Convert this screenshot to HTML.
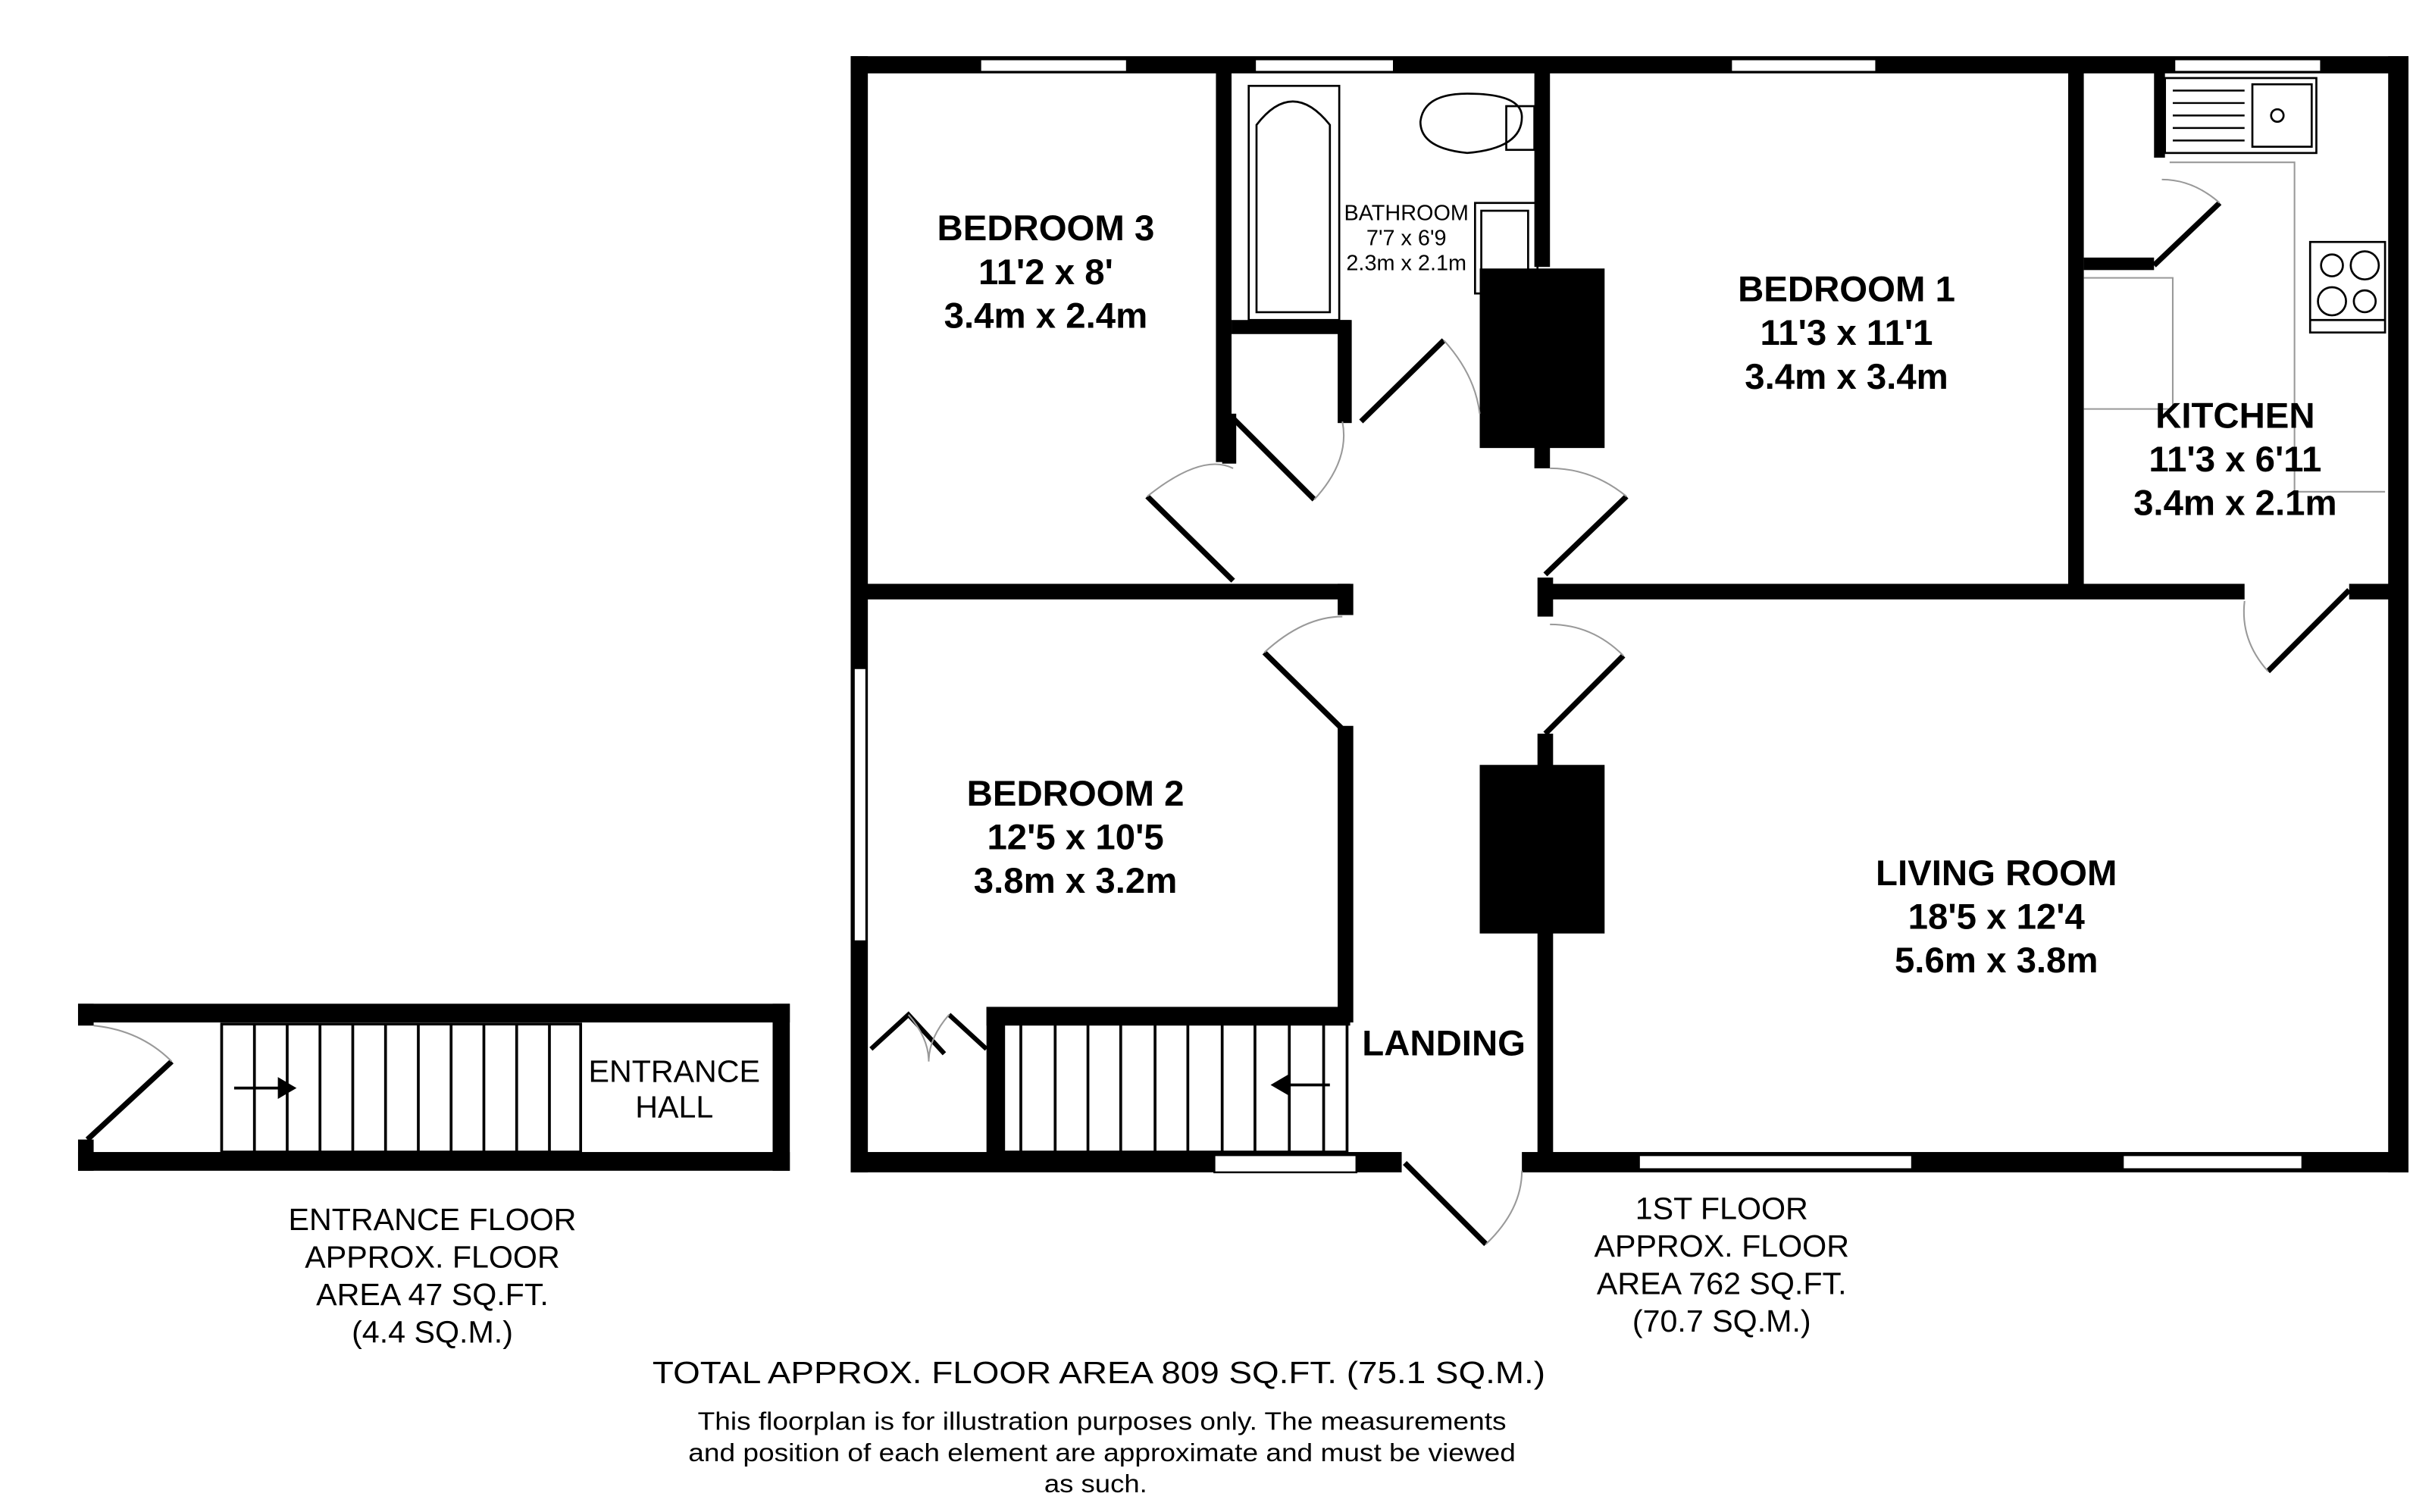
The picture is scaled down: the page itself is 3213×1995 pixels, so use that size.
<!DOCTYPE html>
<html><head><meta charset="utf-8"><style>
html,body{margin:0;padding:0;background:#fff;width:3213px;height:1995px;overflow:hidden}
svg{display:block}
text{font-family:"Liberation Sans Narrow","Liberation Sans",sans-serif;fill:#000}
.b{font-weight:bold;font-size:23px}
.n{font-size:20px}
</style></head><body>
<svg width="3213" height="1995" viewBox="0 0 1560 968.6" preserveAspectRatio="none" xmlns="http://www.w3.org/2000/svg">
<g fill="#000">
<rect x="545" y="36" width="998" height="11"/>
<rect x="545" y="36" width="11" height="715"/>
<rect x="1530" y="36" width="13" height="715"/>
<rect x="545" y="738" width="353" height="13"/>
<rect x="975" y="738" width="568" height="13"/>
<rect x="779" y="46" width="10" height="250"/>
<rect x="789" y="205" width="76" height="9"/>
<rect x="857" y="205" width="9" height="66"/>
<rect x="783" y="265" width="9" height="32"/>
<rect x="983" y="46" width="10" height="125"/>
<rect x="948" y="172" width="80" height="115"/>
<rect x="983" y="280" width="10" height="20"/>
<rect x="555" y="374" width="310" height="10"/>
<rect x="857" y="374" width="10" height="20"/>
<rect x="857" y="465" width="10" height="190"/>
<rect x="985" y="370" width="10" height="25"/>
<rect x="985" y="470" width="10" height="280"/>
<rect x="948" y="490" width="80" height="108"/>
<rect x="990" y="374" width="448" height="10"/>
<rect x="1505" y="374" width="38" height="10"/>
<rect x="1325" y="46" width="10" height="330"/>
<rect x="1335" y="165" width="45" height="8"/>
<rect x="1380" y="46" width="7" height="55"/>
<rect x="632" y="645" width="233" height="12"/>
<rect x="632" y="645" width="11" height="100"/>
<rect x="50" y="643" width="456" height="12"/>
<rect x="50" y="738" width="456" height="12"/>
<rect x="495" y="643" width="11" height="107"/>
<rect x="50" y="643" width="10" height="14"/>
<rect x="50" y="730" width="10" height="20"/>
</g>
<g fill="#fff" stroke="#000" stroke-width="1.2">
<rect x="628" y="38" width="94" height="8"/>
<rect x="804" y="38" width="89" height="8"/>
<rect x="1109" y="38" width="93" height="8"/>
<rect x="1393" y="38" width="94" height="8"/>
<rect x="547" y="428" width="8" height="175"/>
<rect x="778" y="740" width="91" height="11"/>
<rect x="1050" y="740" width="175" height="9"/>
<rect x="1360" y="740" width="115" height="9"/>
</g>
<g stroke="#000" stroke-width="3.5" fill="none">
<line x1="735" y1="318" x2="790" y2="372"/>
<line x1="790" y1="268" x2="842" y2="320"/>
<line x1="872" y1="270" x2="925" y2="218"/>
<line x1="990" y1="368" x2="1042" y2="318"/>
<line x1="810" y1="418" x2="860" y2="467"/>
<line x1="990" y1="470" x2="1040" y2="420"/>
<line x1="1380" y1="170" x2="1422" y2="130"/>
<line x1="1453" y1="430" x2="1505" y2="378"/>
<line x1="900" y1="745" x2="952" y2="797"/>
<line x1="56" y1="730" x2="110" y2="680"/>
<polyline points="558,672 582,650 605,675" stroke-width="3"/>
<polyline points="608,650 632,672" stroke-width="3"/>
</g>
<g stroke="#999" stroke-width="1" fill="none">
<path d="M735,318 Q770,290 790,300"/>
<path d="M842,320 Q865,295 860,270"/>
<path d="M925,218 Q945,240 948,265"/>
<path d="M1042,318 Q1020,300 993,300"/>
<path d="M810,418 Q835,395 860,395"/>
<path d="M1040,420 Q1020,400 993,400"/>
<path d="M1422,130 Q1405,115 1385,115"/>
<path d="M1453,430 Q1435,410 1438,385"/>
<path d="M952,797 Q975,775 975,750"/>
<path d="M110,680 Q90,660 60,657"/>
<path d="M582,650 Q595,665 595,680 Q595,665 608,650"/>
<polyline points="1390,104 1470,104 1470,315 1528,315"/>
<polyline points="1335,178 1392,178 1392,262 1335,262"/>
</g>
<g stroke="#000" stroke-width="1.3" fill="none">
<rect x="800" y="55" width="58" height="150"/>
<path d="M805,200 L805,80 Q828,50 852,80 L852,200 Z"/>
<path d="M940,60 Q975,60 975,75 Q975,95 940,98 Q910,95 910,78 Q912,60 940,60"/>
<rect x="965" y="68" width="18" height="28"/>
<rect x="945" y="130" width="40" height="58"/>
<rect x="949" y="135" width="30" height="50"/>
<rect x="1387" y="50" width="97" height="48"/>
<rect x="1443" y="54" width="38" height="40"/>
<circle cx="1459" cy="74" r="4"/>
<rect x="1480" y="155" width="48" height="58"/>
<circle cx="1494" cy="170" r="7"/><circle cx="1515" cy="170" r="9"/>
<circle cx="1494" cy="193" r="9"/><circle cx="1515" cy="193" r="7"/>
<line x1="1480" y1="205" x2="1528" y2="205"/>
</g>
<g stroke="#000" stroke-width="1.2">
<line x1="1392" y1="58" x2="1438" y2="58"/><line x1="1392" y1="66" x2="1438" y2="66"/>
<line x1="1392" y1="74" x2="1438" y2="74"/><line x1="1392" y1="82" x2="1438" y2="82"/>
<line x1="1392" y1="90" x2="1438" y2="90"/>
</g>
<g stroke="#000" stroke-width="1.8" fill="none">
<rect x="643" y="656" width="220" height="82"/>
<line x1="654" y1="656" x2="654" y2="738"/>
<line x1="676" y1="656" x2="676" y2="738"/>
<line x1="697" y1="656" x2="697" y2="738"/>
<line x1="718" y1="656" x2="718" y2="738"/>
<line x1="740" y1="656" x2="740" y2="738"/>
<line x1="761" y1="656" x2="761" y2="738"/>
<line x1="783" y1="656" x2="783" y2="738"/>
<line x1="804" y1="656" x2="804" y2="738"/>
<line x1="826" y1="656" x2="826" y2="738"/>
<line x1="848" y1="656" x2="848" y2="738"/>
<line x1="825" y1="695" x2="852" y2="695"/>
<rect x="142" y="656" width="230" height="82"/>
<line x1="163" y1="656" x2="163" y2="738"/>
<line x1="184" y1="656" x2="184" y2="738"/>
<line x1="205" y1="656" x2="205" y2="738"/>
<line x1="226" y1="656" x2="226" y2="738"/>
<line x1="247" y1="656" x2="247" y2="738"/>
<line x1="268" y1="656" x2="268" y2="738"/>
<line x1="289" y1="656" x2="289" y2="738"/>
<line x1="310" y1="656" x2="310" y2="738"/>
<line x1="331" y1="656" x2="331" y2="738"/>
<line x1="352" y1="656" x2="352" y2="738"/>
<line x1="150" y1="697" x2="180" y2="697"/>
</g>
<polygon points="814,695 826,688 826,702"/>
<polygon points="190,697 178,690 178,704"/>
<g class="b" text-anchor="middle">
<text x="670" y="154">BEDROOM 3</text><text x="670" y="182">11'2 x 8'</text><text x="670" y="210">3.4m x 2.4m</text>
<text x="1183" y="193">BEDROOM 1</text><text x="1183" y="221">11'3 x 11'1</text><text x="1183" y="249">3.4m x 3.4m</text>
<text x="1432" y="274">KITCHEN</text><text x="1432" y="302">11'3 x 6'11</text><text x="1432" y="330">3.4m x 2.1m</text>
<text x="689" y="516">BEDROOM 2</text><text x="689" y="544">12'5 x 10'5</text><text x="689" y="572">3.8m x 3.2m</text>
<text x="1279" y="567">LIVING ROOM</text><text x="1279" y="595">18'5 x 12'4</text><text x="1279" y="623">5.6m x 3.8m</text>
<text x="925" y="676">LANDING</text>
</g>
<g text-anchor="middle" style="font-size:14px">
<text x="901" y="141">BATHROOM</text><text x="901" y="157">7'7 x 6'9</text><text x="901" y="173">2.3m x 2.1m</text>
</g>
<g class="n" text-anchor="middle">
<text x="432" y="693">ENTRANCE</text><text x="432" y="716">HALL</text>
<text x="277" y="788">ENTRANCE FLOOR</text><text x="277" y="812">APPROX. FLOOR</text><text x="277" y="836">AREA 47 SQ.FT.</text><text x="277" y="860">(4.4 SQ.M.)</text>
<text x="1103" y="781">1ST FLOOR</text><text x="1103" y="805">APPROX. FLOOR</text><text x="1103" y="829">AREA 762 SQ.FT.</text><text x="1103" y="853">(70.7 SQ.M.)</text>
<text x="704" y="886" textLength="572" lengthAdjust="spacingAndGlyphs">TOTAL APPROX. FLOOR AREA 809 SQ.FT. (75.1 SQ.M.)</text>
</g>
<g text-anchor="middle" style="font-size:16px">
<text x="706" y="916" textLength="518" lengthAdjust="spacingAndGlyphs">This floorplan is for illustration purposes only. The measurements</text>
<text x="706" y="936" textLength="530" lengthAdjust="spacingAndGlyphs">and position of each element are approximate and must be viewed</text>
<text x="702" y="956" textLength="66" lengthAdjust="spacingAndGlyphs">as such.</text>
</g>
</svg>
</body></html>
